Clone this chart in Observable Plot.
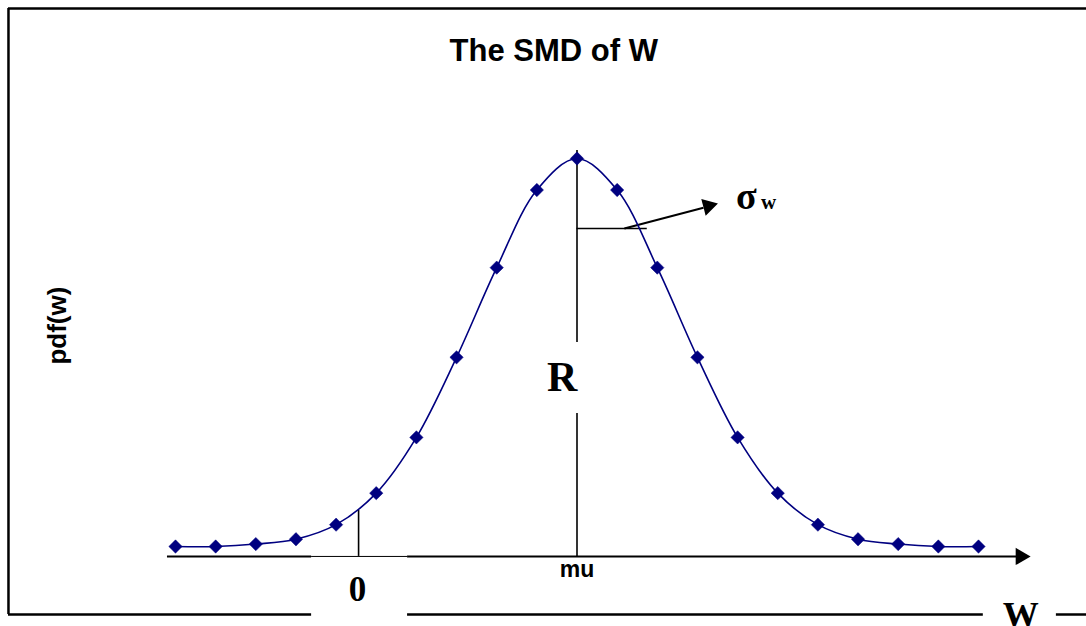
<!DOCTYPE html>
<html><head><meta charset="utf-8">
<script src="https://cdn.jsdelivr.net/npm/d3@7"></script>
<script src="https://cdn.jsdelivr.net/npm/@observablehq/plot@0.6"></script>
<style>
body{margin:0;background:#fff;}
#wrap{position:relative;width:1086px;height:626px;overflow:hidden;}
</style></head><body><div id="wrap"></div>
<script>
// data: 21 evenly spaced W positions (index), pdf values
const wIndex = [0,1,2,3,4,5,6,7,8,9,10,11,12,13,14,15,16,17,18,19,20];
const pdfValues = [0.000,0.000,0.001,0.003,0.009,0.022,0.045,0.078,0.115,0.147,0.160,
                   0.147,0.115,0.078,0.045,0.022,0.009,0.003,0.001,0.000,0.000];
const titleText = "The SMD of W";
const yLabel = "pdf(w)";
const muLabel = "mu";
const zeroLabel = "0";
const wLabel = "W";
const rLabel = "R";

// annotation positions in data units
const muX = 10, zeroX = 4.56, axisY = -0.0041;
const sigmaY = 0.1311;

const data = wIndex.map((w, i) => ({w, p: pdfValues[i]}));
const navy = "#000080";
const serif = "'Liberation Serif', 'Times New Roman', serif";
const sans = "'Liberation Sans', Arial, sans-serif";

const chart = Plot.plot({
  width: 1086, height: 626,
  marginTop: 0, marginRight: 0, marginBottom: 0, marginLeft: 0,
  x: {domain: [0, 20], range: [175, 978], axis: null},
  y: {domain: [0, 0.16], range: [546, 158], axis: null},
  style: {background: "#fff", overflow: "visible"},
  marks: [
    // outer chart-area frame
    Plot.ruleX([-4.16], {y1: -0.028, y2: 0.2219, stroke: "#000", strokeWidth: 2.5}),
    Plot.ruleY([0.2219], {x1: -4.16, x2: 23.5, stroke: "#000", strokeWidth: 2.5}),
    Plot.ruleY([{a: -4.16, b: 3.39}, {a: 5.78, b: 20.12}, {a: 21.94, b: 23.5}],
      {y: -0.028, x1: "a", x2: "b", stroke: "#000", strokeWidth: 2.5}),
    // x axis with arrow
    Plot.ruleY([{a: -0.2, b: 3.39, s: 2}, {a: 3.39, b: 5.78, s: 1}, {a: 5.78, b: 21.0, s: 2}],
      {y: axisY, x1: "a", x2: "b", stroke: "#000", strokeWidth: "s"}),
    Plot.dot([{x: 21.05, y: axisY}], {x: "x", y: "y", symbol: "triangle", r: 6.4, rotate: 90, fill: "#000", stroke: "none"}),
    // vertical guides
    Plot.ruleX([muX], {y1: 0.0841, y2: 0.1633, stroke: "#000", strokeWidth: 1.6}),
    Plot.ruleX([muX], {y1: axisY, y2: 0.0548, stroke: "#000", strokeWidth: 1.6}),
    Plot.ruleX([zeroX], {y1: axisY, y2: 0.0149, stroke: "#000", strokeWidth: 1.6}),
    // sigma marker and arrow
    Plot.ruleY([sigmaY], {x1: muX, x2: 11.75, stroke: "#000", strokeWidth: 1.5}),
    Plot.link([{x1: 11.18, y1: sigmaY, x2: 13.15, y2: 0.1397}], {x1: "x1", y1: "y1", x2: "x2", y2: "y2", stroke: "#000", strokeWidth: 2}),
    Plot.dot([{x: 13.27, y: 0.1404}], {x: "x", y: "y", symbol: "triangle", r: 6.4, rotate: 75.3, fill: "#000", stroke: "none"}),
    // curve and markers
    Plot.line(data, {x: "w", y: "p", curve: "catmull-rom", stroke: navy, strokeWidth: 1.6}),
    Plot.dot(data, {x: "w", y: "p", symbol: "diamond2", r: 6, fill: navy, stroke: navy, strokeWidth: 0.5}),
    // texts
    Plot.text([titleText], {x: 9.42, y: 0.2045, text: d => d, fontSize: 31, fontWeight: "bold", fontFamily: sans, fill: "#000"}),
    Plot.text([yLabel], {x: -2.94, y: 0.0911, text: d => d, rotate: -90, fontSize: 26, fontWeight: "bold", fontFamily: sans, fill: "#000"}),
    Plot.text([muLabel], {x: muX, y: -0.0095, text: d => d, fontSize: 23, fontWeight: "bold", fontFamily: sans, fill: "#000"}),
    Plot.text([rLabel], {x: 9.63, y: 0.0697, text: d => d, fontSize: 42, fontWeight: "bold", fontFamily: serif, fill: "#000"}),
    Plot.text([zeroLabel], {x: 4.53, y: -0.018, text: d => d, fontSize: 35, fontWeight: "bold", fontFamily: serif, fill: "#000"}),
    Plot.text([wLabel], {x: 21.05, y: -0.0285, text: d => d, fontSize: 36, fontWeight: "bold", fontFamily: serif, fill: "#000"}),
    Plot.text(["σ"], {x: 14.22, y: 0.1443, text: d => d, fontSize: 38, fontWeight: "bold", fontFamily: serif, fill: "#000"}),
    Plot.text(["w"], {x: 14.77, y: 0.1420, text: d => d, fontSize: 21, fontWeight: "bold", fontFamily: serif, fill: "#000"})
  ]
});
document.getElementById("wrap").appendChild(chart);
</script></body></html>
